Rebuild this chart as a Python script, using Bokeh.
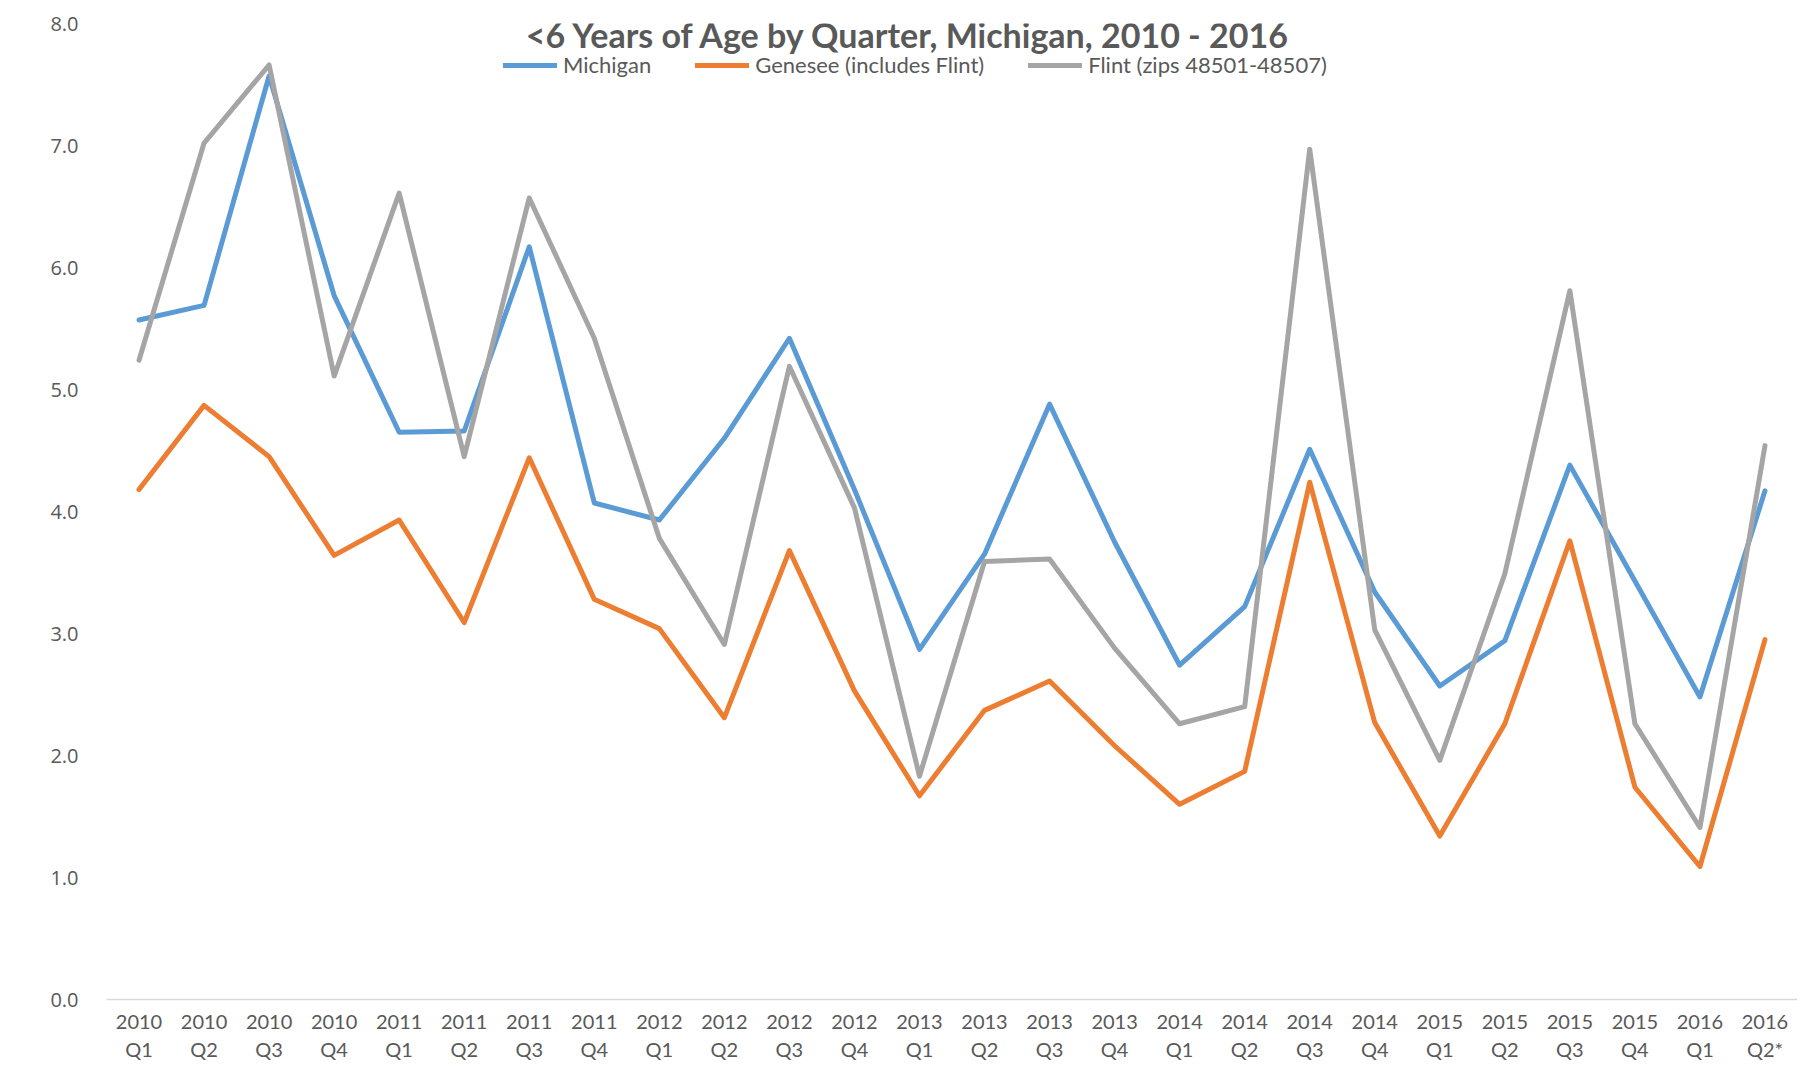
from bokeh.plotting import figure
from bokeh.models import Range1d, FixedTicker, Legend, LegendItem, Label, NumeralTickFormatter
from bokeh.embed import file_html
from bokeh.resources import INLINE

title_text = "<6 Years of Age by Quarter,  Michigan, 2010 - 2016"
years = ["2010", "2010", "2010", "2010", "2011", "2011", "2011", "2011",
         "2012", "2012", "2012", "2012", "2013", "2013", "2013", "2013",
         "2014", "2014", "2014", "2014", "2015", "2015", "2015", "2015",
         "2016", "2016"]
qtrs = ["Q1", "Q2", "Q3", "Q4"] * 6 + ["Q1", "Q2*"]

michigan = [5.57, 5.69, 7.57, 5.77, 4.65, 4.66, 6.17, 4.07, 3.93, 4.60, 5.42, 4.18, 2.87,
            3.65, 4.88, 3.75, 2.74, 3.22, 4.51, 3.34, 2.57, 2.94, 4.38, 3.43, 2.48, 4.17]
genesee = [4.18, 4.87, 4.45, 3.64, 3.93, 3.09, 4.44, 3.28, 3.04, 2.31, 3.68, 2.53, 1.67,
           2.37, 2.61, 2.08, 1.60, 1.87, 4.24, 2.27, 1.34, 2.26, 3.76, 1.74, 1.09, 2.95]
flint = [5.24, 7.02, 7.66, 5.11, 6.61, 4.45, 6.57, 5.42, 3.78, 2.91, 5.19, 4.03, 1.83,
         3.59, 3.61, 2.88, 2.26, 2.40, 6.97, 3.03, 1.96, 3.49, 5.81, 2.26, 1.41, 4.54]
y_ticks = [0, 1, 2, 3, 4, 5, 6, 7, 8]

x = list(range(len(years)))
labels = {i: f"{y}\n{q}" for i, (y, q) in enumerate(zip(years, qtrs))}

p = figure(width=1797, height=1064, output_backend="svg", toolbar_location=None,
           x_range=Range1d(-0.5, len(x) - 0.5), y_range=Range1d(0, 8),
           min_border_left=106, min_border_right=0, min_border_top=23, min_border_bottom=60)
p.outline_line_color = None
p.xgrid.visible = False
p.ygrid.visible = False

p.yaxis.ticker = FixedTicker(ticks=y_ticks)
p.yaxis.formatter = NumeralTickFormatter(format="0.0")
p.yaxis.axis_line_color = None
p.yaxis.major_tick_line_color = None
p.yaxis.minor_tick_line_color = None
p.yaxis.major_label_text_font = "Open Sans"
p.yaxis.major_label_text_font_size = "20px"
p.yaxis.major_label_text_color = "#595959"
p.yaxis.major_label_standoff = 22

p.xaxis.ticker = FixedTicker(ticks=x)
p.xaxis.major_label_overrides = labels
p.xaxis.axis_line_color = "#D9D9D9"
p.xaxis.axis_line_width = 1.5
p.xaxis.major_tick_line_color = None
p.xaxis.minor_tick_line_color = None
p.xaxis.major_label_text_font = "Lato"
p.xaxis.major_label_text_font_size = "20px"
p.xaxis.major_label_text_color = "#595959"
p.xaxis.major_label_standoff = 3
p.xaxis.major_label_text_line_height = 1.2

r_m = p.line(x, michigan, line_color="#5B9BD5", line_width=5, line_join="round", line_cap="round")
r_g = p.line(x, genesee, line_color="#ED7D31", line_width=5, line_join="round", line_cap="round")
r_f = p.line(x, flint, line_color="#A5A5A5", line_width=5, line_join="round", line_cap="round")

legend = Legend(items=[LegendItem(label="Michigan", renderers=[r_m]),
                       LegendItem(label="Genesee (includes Flint)", renderers=[r_g]),
                       LegendItem(label="Flint (zips 48501-48507)", renderers=[r_f])],
                orientation="horizontal", location=(397, 921),
                glyph_width=54, glyph_height=20, label_standoff=6, spacing=44,
                border_line_color=None, background_fill_alpha=0, padding=0, margin=0,
                label_text_font="Lato", label_text_font_size="22px", label_text_color="#595959")
p.add_layout(legend)

p.add_layout(Label(x=-1.78, y=4.15, text="%", text_align="center", text_baseline="middle",
                   text_font="Open Sans", text_font_size="20px", text_color="#000000"))
p.add_layout(Label(x=11.9, y=7.912, text=title_text, text_align="center", text_baseline="alphabetic",
                   text_font="Lato", text_font_style="bold", text_font_size="34px", text_color="#595959"))

open("out.html", "w").write(file_html(p, INLINE))
